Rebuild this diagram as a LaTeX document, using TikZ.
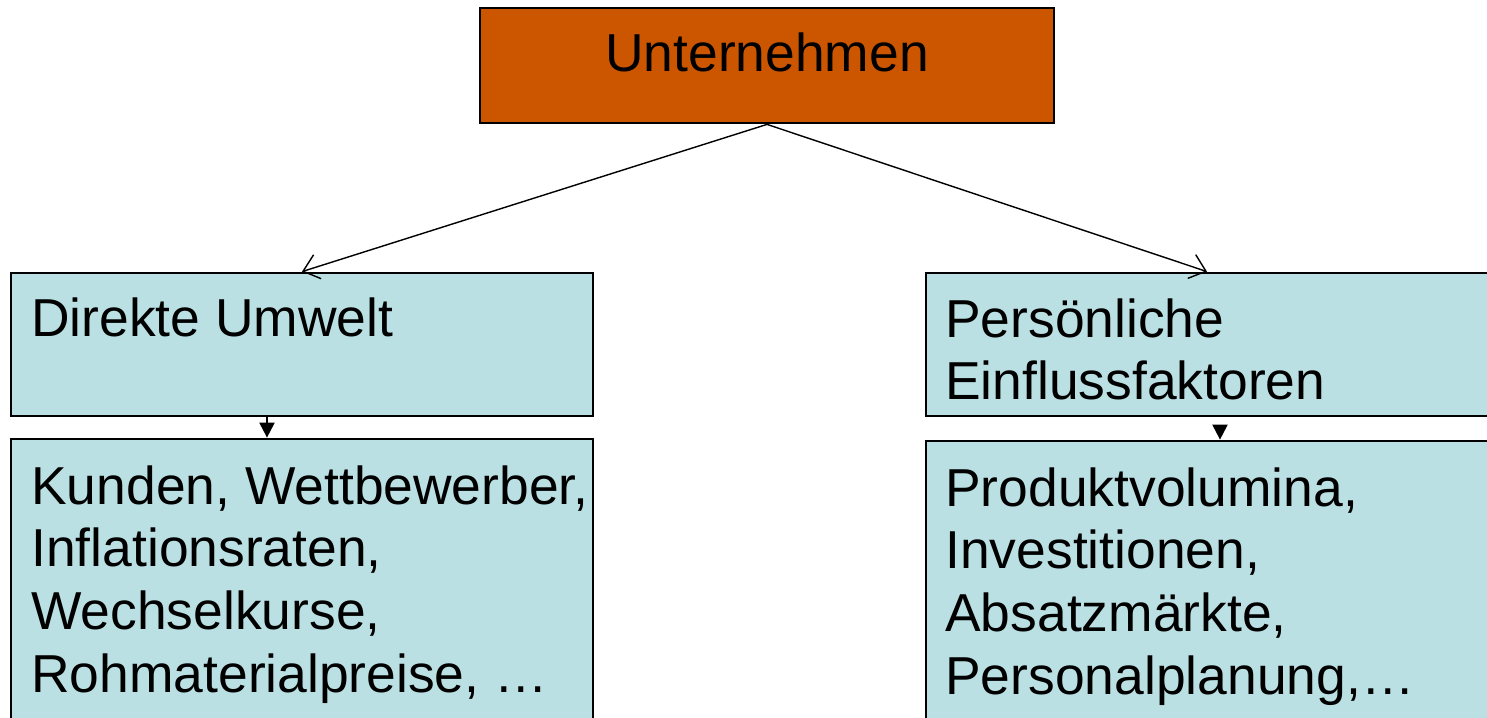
\documentclass[tikz,border=0pt]{standalone}
\usepackage{fontspec}
\setmainfont{Liberation Sans}
\usepackage{xcolor}
\usetikzlibrary{calc, positioning, arrows.meta}

\definecolor{firmorange}{RGB}{204,85,0}
\definecolor{envcyan}{RGB}{187,224,227}

\begin{document}
\begin{tikzpicture}[x=0.02cm, y=-0.02cm,
        box/.style={rectangle, draw=black, line width=1.6pt, fill=envcyan,
            minimum width=11.64cm, inner sep=0pt},
        lab/.style={font=\fontsize{30.4}{35.7}\selectfont, inner sep=0pt, align=left},
        link/.style={line width=0.8pt, -{Straight Barb[length=0.3cm, width=0.5cm, line width=0.8pt]}},
        down/.style={line width=1.2pt, -{Triangle[length=0.3cm, width=0.3cm]}}
    ]
    \useasboundingbox (0,0) rectangle (1487,717);
    \clip (0,0) rectangle (1487,717);
    % boxes
    \node[box, fill=firmorange, minimum width=11.48cm, minimum height=2.3cm] (firm) at (767,65.5) {};
    \node[box, minimum height=2.86cm] (umwelt) at (302,344.5) {};
    \node[box, minimum height=6.02cm] (umweltlist) at (302,589.5) {};
    \node[box, minimum height=2.86cm] (person) at (1217,344.5) {};
    \node[box, minimum height=6.0cm] (personlist) at (1217,591) {};
    % texts
    \node[lab, anchor=base] (firmtxt) at (767,71) {Unternehmen};
    \node[lab, anchor=base west] (umwelttxt) at (31,336) {Direkte Umwelt};
    \node[lab, anchor=north west] (persontxt) at (945,298) {Persönliche\\Einflussfaktoren};
    \node[lab, anchor=north west] (umweltlisttxt) at (31,465) {Kunden, Wettbewerber,\\Inflationsraten,\\Wechselkurse,\\Rohmaterialpreise, \dots};
    \node[lab, anchor=north west] (personlisttxt) at (945,467) {Produktvolumina,\\Investitionen,\\Absatzmärkte,\\Personalplanung,\dots};
    % connectors
    \draw[link] (firm.south) -- (umwelt.north);
    \draw[link] (firm.south) -- ([xshift=-0.2cm]person.north);
    \draw[down] ([xshift=-0.7cm]umwelt.south) -- ([xshift=-0.7cm]umweltlist.north);
    \draw[down, shorten <=0.16cm] ([xshift=0.06cm]person.south) -- ([xshift=0.06cm]personlist.north);
\end{tikzpicture}
\end{document}
